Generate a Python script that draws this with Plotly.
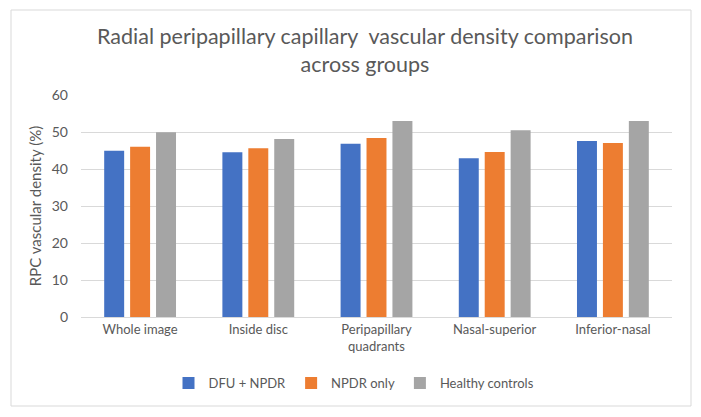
import plotly.graph_objects as go

categories = ["Whole image", "Inside disc", "Peripapillary<br>quadrants", "Nasal-superior", "Inferior-nasal"]
series_names = ["DFU + NPDR", "NPDR only", "Healthy controls"]
dfu_npdr = [44.9, 44.5, 46.8, 42.9, 47.6]
npdr_only = [46.0, 45.6, 48.4, 44.6, 47.0]
healthy = [49.9, 48.1, 53.0, 50.5, 53.0]
colors = ["#4472C4", "#ED7D31", "#A5A5A5"]
y_ticks = [0, 10, 20, 30, 40, 50, 60]

FONT = "Lato"
TXT = "#595959"

fig = go.Figure()
for name, vals, col in zip(series_names, [dfu_npdr, npdr_only, healthy], colors):
    fig.add_trace(go.Bar(x=categories, y=vals, name=name, marker=dict(color=col, line=dict(width=0))))

W, H = 701, 417
ml, mr, mt, mb = 81, 29, 95, 100
pw, ph = W - ml - mr, H - mt - mb

def px_to_paper_x(px):
    return (px - ml) / pw

def py_to_paper_y(py):
    return (H - mb - py) / ph

fig.update_layout(
    width=W, height=H,
    margin=dict(l=ml, r=mr, t=mt, b=mb, autoexpand=False),
    paper_bgcolor="white", plot_bgcolor="white",
    font=dict(family=FONT, color=TXT, size=13),
    title=dict(
        text="Radial peripapillary capillary  vascular density comparison<br>across groups",
        x=365 / W, xanchor="center", xref="container",
        y=1 - 44 / H, yanchor="top", yref="container",
        font=dict(family=FONT, size=21.5, color=TXT),
    ),
    barmode="group",
    bargap=0.342,
    bargroupgap=0.23,
    showlegend=True,
    legend=dict(
        orientation="h", x=px_to_paper_x(354), xref="paper", xanchor="center",
        y=py_to_paper_y(383), yref="paper", yanchor="middle",
        font=dict(family=FONT, size=13, color=TXT),
        traceorder="normal", itemwidth=30,
    ),
    xaxis=dict(
        showline=True, linecolor="#D9D9D9", linewidth=1, automargin=False,
        ticks="", tickfont=dict(family=FONT, size=13, color=TXT), tickangle=0,
        showgrid=False,
    ),
    yaxis=dict(
        range=[0, 60], tickvals=y_ticks, ticktext=[str(v) for v in y_ticks],
        showgrid=True, gridcolor="#D9D9D9", gridwidth=1, automargin=False,
        zeroline=False, showline=False, ticks="",
        ticklabelstandoff=12,
        tickfont=dict(family=FONT, size=14, color=TXT),
        title=dict(text="RPC vascular density (%)", font=dict(family=FONT, size=15, color=TXT), standoff=6),
    ),
    shapes=[dict(
        type="rect", xref="paper", yref="paper",
        x0=px_to_paper_x(11), x1=px_to_paper_x(691),
        y0=py_to_paper_y(406), y1=py_to_paper_y(10),
        line=dict(color="#D9D9D9", width=1), fillcolor="rgba(0,0,0,0)", layer="below",
    )],
)

fig.write_html("out.html")
